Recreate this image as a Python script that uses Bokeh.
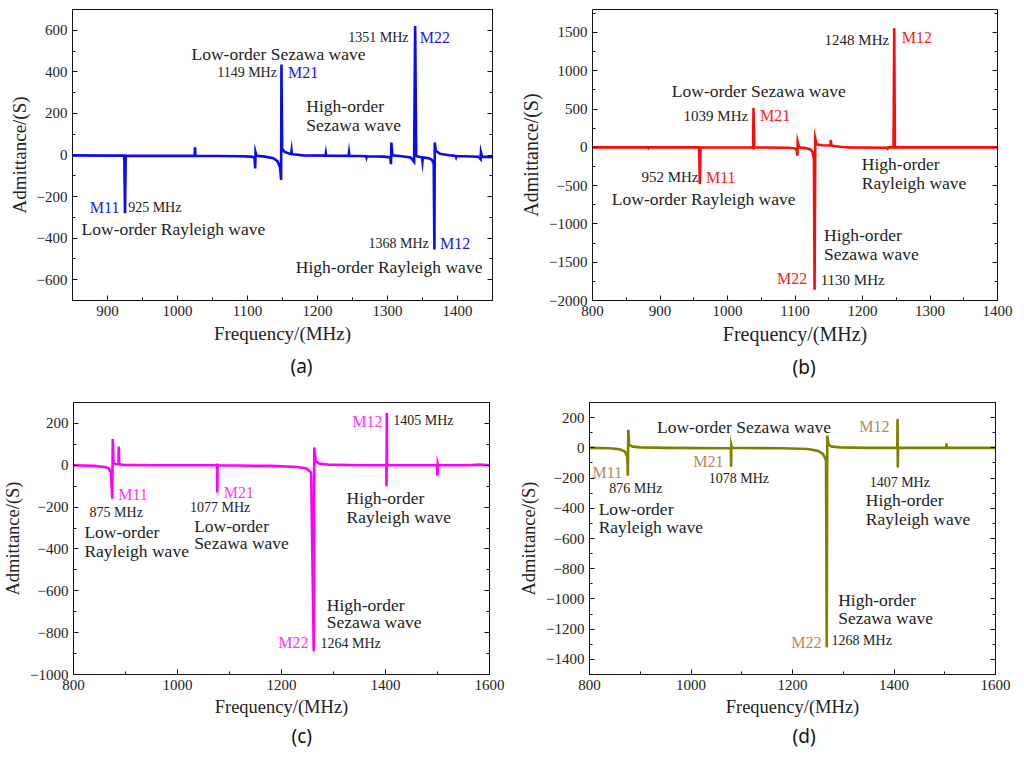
from bokeh.plotting import figure
from bokeh.models import (Range1d, LinearAxis, SingleIntervalTicker, CustomJSTickFormatter,
                          ColumnDataSource, Title)
from bokeh.layouts import column, row
from bokeh.core.properties import value, field
from bokeh.embed import file_html
from bokeh.resources import INLINE

# ---------------- data ----------------
a_freq = [850, 900, 924, 925, 926, 1000, 1024.5, 1025, 1025.5, 1090, 1105, 1110, 1111, 1111.5, 1113,
          1125, 1137, 1143, 1146.5, 1148, 1148.5, 1149.5, 1153, 1160, 1162.5, 1163, 1163.5, 1180,
          1211.5, 1212, 1212.5, 1244.5, 1245, 1245.5, 1269.5, 1270, 1270.5, 1295, 1304, 1305, 1305.5,
          1307, 1320, 1333, 1338, 1339.5, 1341, 1346, 1349.5, 1350, 1350.5, 1358, 1363, 1366, 1367,
          1367.5, 1369, 1375, 1390, 1397.5, 1398, 1398.5, 1430, 1433, 1433.5, 1435, 1450]
a_adm = [-2, -3, -3, -280, -3, -4, -4, 37, -4, -6, -8, -12, -65, 14, -4,
         -8, -15, -30, -60, -120, 435, 30, 15, 6, 6, 20, 4, -2,
         -3, 8, -3, -4, 10, -4, -6, -12, -6, -8, -12, -44, 60,
         -2, -6, -12, -33, 620, -5, -10, -12, -28, -12, -15, -22, -40, -455,
         60, 20, 6, -2, -5, -10, -5, -8, -20, 12, -8, -10]

b_freq = [800, 882, 883, 884, 958, 959, 960, 1036, 1038, 1038.5, 1039.5, 1090, 1100, 1103, 1103.5,
          1104, 1106, 1115, 1122, 1126, 1128, 1129, 1130, 1132, 1140, 1152.5, 1153, 1154, 1160, 1170,
          1180, 1236, 1237, 1238, 1246, 1247, 1248, 1400]
b_adm = [0, 0, -10, 0, 0, -480, 0, -3, -10, 515, 0, -5, -15, -40, -108,
         70, 0, -10, -25, -60, -150, -1860, 115, 40, 28, 25, 95, 22, 15, 5,
         0, -5, -15, 0, 0, 1555, 0, 0]

c_freq = [800, 840, 860, 868, 872, 874.5, 875.5, 877, 882, 886.5, 887, 888, 895, 950, 1076, 1076.5,
          1077, 1077.5, 1180, 1230, 1248, 1257, 1262, 1263, 1266, 1272, 1290, 1350, 1401.5, 1402,
          1402.5, 1403, 1499, 1500, 1500.5, 1501, 1560, 1580, 1600]
c_adm = [0, -3, -8, -15, -35, -160, 125, 10, 5, 5, 90, 5, 2, 0, 0, -130,
         8, 0, -3, -8, -15, -35, -890, 85, 20, 8, 3, 0, 0, -100,
         250, 0, 0, -50, 5, 0, 0, 3, 0]

d_freq = [800, 840, 860, 870, 874.5, 875.5, 876.5, 878, 885, 900, 950, 1078.5, 1079, 1079.5, 1080.5,
          1180, 1230, 1250, 1260, 1266, 1267.5, 1268.5, 1271, 1278, 1295, 1350, 1406.5, 1407, 1407.5,
          1408, 1503, 1503.5, 1504, 1600]
d_adm = [0, -3, -10, -25, -60, -185, 120, 20, 8, 3, 0, -3, -125, 15, 0,
         -3, -8, -20, -40, -80, -1320, 80, 20, 8, 3, 0, 0, 190, -130,
         0, 0, 30, 0, 0]

# annotations: (text, x, y, align, style)
a_notes = [("Low-order Sezawa wave", 1020, 485, "left", "desc"),
           ("1149 MHz", 1142, 398, "right", "freq"),
           ("M21", 1158, 398, "left", "mode"),
           ("1351 MHz", 1330, 564, "right", "freq"),
           ("M22", 1346, 564, "left", "mode"),
           ("High-order", 1184, 235, "left", "desc"),
           ("Sezawa wave", 1184, 144, "left", "desc"),
           ("M11", 917, -252, "right", "mode"),
           ("925 MHz", 929.5, -252, "left", "freq"),
           ("Low-order Rayleigh wave", 863, -354, "left", "desc"),
           ("1368 MHz", 1359, -426, "right", "freq"),
           ("M12", 1375, -426, "left", "mode"),
           ("High-order Rayleigh  wave", 1169, -541, "left", "desc")]
b_notes = [("1248 MHz", 1239.5, 1401, "right", "freq"),
           ("M12", 1258, 1435, "left", "mode"),
           ("Low-order Sezawa wave", 917.5, 730, "left", "desc"),
           ("1039 MHz", 1030.6, 410, "right", "freq"),
           ("M21", 1048, 410, "left", "mode"),
           ("952 MHz", 957, -391, "right", "freq"),
           ("M11", 968, -391, "left", "mode"),
           ("Low-order Rayleigh wave", 828.6, -673, "left", "desc"),
           ("High-order", 1199, -217, "left", "desc"),
           ("Rayleigh  wave", 1199, -465, "left", "desc"),
           ("High-order", 1143, -1143, "left", "desc"),
           ("Sezawa wave", 1143, -1391, "left", "desc"),
           ("M22", 1118, -1709, "right", "mode"),
           ("1130 MHz", 1138, -1726, "left", "freq")]
c_notes = [("M12", 1394, 209, "right", "mode"),
           ("1405 MHz", 1415, 215, "left", "freq"),
           ("M11", 886, -139, "left", "mode"),
           ("875 MHz", 831, -228, "left", "freq"),
           ("Low-order", 821, -321, "left", "desc"),
           ("Rayleigh wave", 821, -408, "left", "desc"),
           ("M21", 1089, -131, "left", "mode"),
           ("1077 MHz", 1024, -202, "left", "freq"),
           ("Low-order", 1032, -288, "left", "desc"),
           ("Sezawa wave", 1032, -373, "left", "desc"),
           ("High-order", 1325, -157, "left", "desc"),
           ("Rayleigh  wave", 1325, -246, "left", "desc"),
           ("High-order", 1287, -666, "left", "desc"),
           ("Sezawa wave", 1287, -751, "left", "desc"),
           ("M22", 1252, -848, "right", "mode"),
           ("1264 MHz", 1275, -851, "left", "freq")]
d_notes = [("Low-order Sezawa wave", 933, 141, "left", "desc"),
           ("M12", 1391, 141, "right", "mode"),
           ("M11", 806, -161, "left", "mode"),
           ("876 MHz", 839, -269, "left", "freq"),
           ("Low-order", 818, -406, "left", "desc"),
           ("Rayleigh wave", 818, -525, "left", "desc"),
           ("M21", 1064, -88, "right", "mode"),
           ("1078 MHz", 1035, -206, "left", "freq"),
           ("1407 MHz", 1352, -227, "left", "freq"),
           ("High-order", 1344.5, -348, "left", "desc"),
           ("Rayleigh  wave", 1344.5, -469, "left", "desc"),
           ("High-order", 1290, -1004, "left", "desc"),
           ("Sezawa wave", 1290, -1125, "left", "desc"),
           ("M22", 1257, -1290, "right", "mode"),
           ("1268 MHz", 1277, -1275, "left", "freq")]

SERIF = "Liberation Serif"
MINUS_FMT = "return tick < 0 ? '\u2212' + String(-tick) : String(tick);"


def make_panel(freq, adm, color, mode_color, notes, xr, yr, xint, yint, size, borders,
               panel_label, plabel_offset, plabel_standoff,
               freq_size="14px", title_size="19px"):
    w, h = size
    left, right, top, bottom = borders
    p = figure(width=w, height=h, output_backend="svg", toolbar_location=None,
               x_range=Range1d(*xr), y_range=Range1d(*yr),
               min_border_left=left, min_border_right=right,
               min_border_top=top, min_border_bottom=bottom)
    p.xgrid.visible = False
    p.ygrid.visible = False
    p.outline_line_color = "#111111"
    p.outline_line_width = 1
    p.background_fill_color = "white"
    p.border_fill_color = "white"

    p.xaxis.ticker = SingleIntervalTicker(interval=xint, num_minor_ticks=2)
    p.yaxis.ticker = SingleIntervalTicker(interval=yint, num_minor_ticks=2)
    p.yaxis.formatter = CustomJSTickFormatter(code=MINUS_FMT)
    for ax in (p.xaxis[0], p.yaxis[0]):
        ax.major_tick_in = 5
        ax.major_tick_out = 0
        ax.minor_tick_in = 3
        ax.minor_tick_out = 0
        ax.axis_line_color = "#111111"
        ax.major_tick_line_color = "#111111"
        ax.minor_tick_line_color = "#111111"
        ax.major_label_text_font = SERIF
        ax.major_label_text_font_size = "15px"
        ax.major_label_text_color = "#222222"
        ax.axis_label_text_font = SERIF
        ax.axis_label_text_font_size = title_size
        ax.axis_label_text_font_style = "normal"
        ax.axis_label_text_color = "#222222"
    p.xaxis.axis_label = "Frequency/(MHz)"
    p.yaxis.axis_label = "Admittance/(S)"
    p.xaxis.major_label_standoff = 5
    p.xaxis.axis_label_standoff = 4
    p.yaxis.major_label_standoff = 5
    p.yaxis.axis_label_standoff = 4

    rax = LinearAxis(ticker=SingleIntervalTicker(interval=yint, num_minor_ticks=2),
                     formatter=CustomJSTickFormatter(code="return '';"),
                     major_tick_in=5, major_tick_out=0, minor_tick_in=3, minor_tick_out=0,
                     axis_line_color="#111111", major_tick_line_color="#111111",
                     minor_tick_line_color="#111111", major_label_standoff=0)
    p.add_layout(rax, "right")

    p.line(freq, adm, line_color=color, line_width=2.6, line_join="miter")

    styles = {
        "desc": dict(size="17.5px", color="#222222"),
        "freq": dict(size=freq_size, color="#222222"),
        "mode": dict(size="16px", color=mode_color),
    }
    for key, st in styles.items():
        rows = [n for n in notes if n[4] == key]
        if not rows:
            continue
        src = ColumnDataSource(dict(
            x=[r[1] for r in rows], y=[r[2] for r in rows],
            text=[r[0] for r in rows], align=[r[3] for r in rows]))
        p.text(x="x", y="y", text="text", source=src, text_align=field("align"),
               text_baseline="middle", text_font=value(SERIF),
               text_font_size=st["size"], text_color=st["color"])

    p.add_layout(Title(text=panel_label, align="left", offset=plabel_offset,
                       standoff=plabel_standoff, text_font="Noto Sans",
                       text_font_size="19px", text_font_style="normal",
                       text_color="#111111"), "below")
    return p


pa = make_panel(a_freq, a_adm, "#0A0AF5", "#1A1AE6", a_notes, (850, 1450), (-700, 700), 100, 200,
                (512, 390), (72, 20, 7, 88), "(a)", 218, 9)
pb = make_panel(b_freq, b_adm, "#FF0A0A", "#FF1A1A", b_notes, (800, 1400), (-2000, 1800), 100, 500,
                (504, 390), (80, 19, 9, 90), "(b)", 200, 9,
                freq_size="15px", title_size="20px")
pc = make_panel(c_freq, c_adm, "#FF00FF", "#FF33FF", c_notes, (800, 1600), (-1000, 300), 200, 200,
                (512, 359), (72, 23, 11, 60), "(c)", 218, 2, title_size="18.5px")
pd = make_panel(d_freq, d_adm, "#808000", "#B5895A", d_notes, (800, 1600), (-1500, 300), 200, 200,
                (504, 359), (77, 21, 12, 63), "(d)", 203, 2, title_size="18.5px")

layout = column(row(pa, pb), row(pc, pd))
open("out.html", "w").write(file_html(layout, INLINE))
